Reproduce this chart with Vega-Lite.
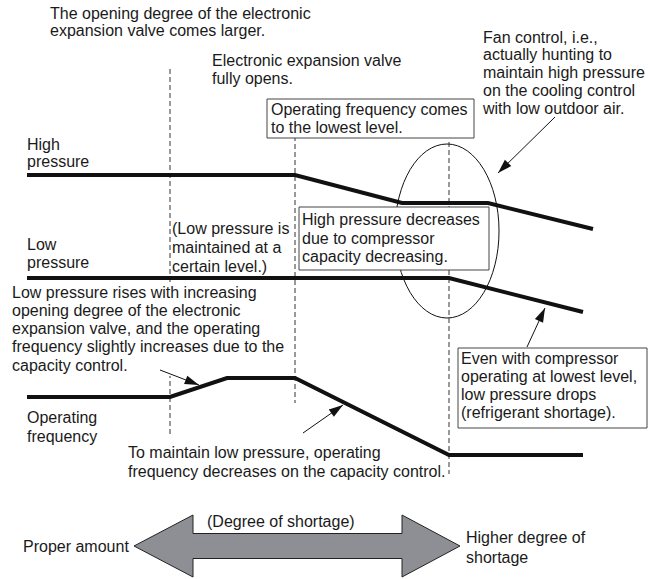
{
  "$schema": "https://vega.github.io/schema/vega-lite/v6.json",
  "width": 649,
  "height": 579,
  "padding": 0,
  "autosize": {"type": "fit", "contains": "padding"},
  "background": "white",
  "config": {"view": {"stroke": null}},
  "datasets": {
    "lines": [
      {"s": "high", "i": 0, "x": 27, "y": 175},
      {"s": "high", "i": 1, "x": 295, "y": 175},
      {"s": "high", "i": 2, "x": 402, "y": 203},
      {"s": "high", "i": 3, "x": 488, "y": 203},
      {"s": "high", "i": 4, "x": 593, "y": 229},
      {"s": "low", "i": 0, "x": 27, "y": 278},
      {"s": "low", "i": 1, "x": 449, "y": 278},
      {"s": "low", "i": 2, "x": 583, "y": 312},
      {"s": "freq", "i": 0, "x": 27, "y": 397},
      {"s": "freq", "i": 1, "x": 170, "y": 397},
      {"s": "freq", "i": 2, "x": 227, "y": 378},
      {"s": "freq", "i": 3, "x": 295, "y": 378},
      {"s": "freq", "i": 4, "x": 449, "y": 455},
      {"s": "freq", "i": 5, "x": 583, "y": 455}
    ],
    "dashes": [
      {"x": 170, "y": 69, "y2": 435},
      {"x": 295, "y": 136, "y2": 403},
      {"x": 449, "y": 142, "y2": 474}
    ],
    "ellipse": [{"x": 447, "y": 231}],
    "mask": [{"x": 8, "x2": 290, "y": 284, "y2": 376}],
    "boxes": [
      {"x": 267, "x2": 474, "y": 99, "y2": 138},
      {"x": 299, "x2": 489, "y": 207, "y2": 270},
      {"x": 458, "x2": 647, "y": 348, "y2": 428}
    ],
    "arrows": [
      {"id": "fan", "x": 555, "y": 117, "x2": 498, "y2": 173},
      {"id": "short", "x": 527, "y": 347, "x2": 545, "y2": 308},
      {"id": "rise", "x": 160, "y": 370, "x2": 199, "y2": 385},
      {"id": "keep", "x": 303, "y": 433, "x2": 343, "y2": 405}
    ],
    "bigarrow": [{"x": 297, "y": 546}],
    "labels": [
      {"x": 50, "y": 14, "t": "The opening degree of the electronic"},
      {"x": 50, "y": 31, "t": "expansion valve comes larger."},
      {"x": 212, "y": 61, "t": "Electronic expansion valve"},
      {"x": 212, "y": 79, "t": "fully opens."},
      {"x": 271, "y": 110, "t": "Operating frequency comes"},
      {"x": 271, "y": 128, "t": "to the lowest level."},
      {"x": 483, "y": 38, "t": "Fan control, i.e.,"},
      {"x": 483, "y": 55, "t": "actually hunting to"},
      {"x": 483, "y": 73, "t": "maintain high pressure"},
      {"x": 483, "y": 91, "t": "on the cooling control"},
      {"x": 483, "y": 109, "t": "with low outdoor air."},
      {"x": 27, "y": 145, "t": "High"},
      {"x": 27, "y": 162, "t": "pressure"},
      {"x": 27, "y": 245, "t": "Low"},
      {"x": 27, "y": 263, "t": "pressure"},
      {"x": 172, "y": 229, "t": "(Low pressure is"},
      {"x": 172, "y": 248, "t": "maintained at a"},
      {"x": 172, "y": 267, "t": "certain level.)"},
      {"x": 302, "y": 220, "t": "High pressure decreases"},
      {"x": 302, "y": 239, "t": "due to compressor"},
      {"x": 302, "y": 257, "t": "capacity decreasing."},
      {"x": 12, "y": 293, "t": "Low pressure rises with increasing"},
      {"x": 12, "y": 311, "t": "opening degree of the electronic"},
      {"x": 12, "y": 329, "t": "expansion valve, and the operating"},
      {"x": 12, "y": 347, "t": "frequency slightly increases due to the"},
      {"x": 12, "y": 366, "t": "capacity control."},
      {"x": 461, "y": 359, "t": "Even with compressor"},
      {"x": 461, "y": 377, "t": "operating at lowest level,"},
      {"x": 461, "y": 395, "t": "low pressure drops"},
      {"x": 461, "y": 413, "t": "(refrigerant shortage)."},
      {"x": 27, "y": 418, "t": "Operating"},
      {"x": 27, "y": 437, "t": "frequency"},
      {"x": 128, "y": 453, "t": "To maintain low pressure, operating"},
      {"x": 128, "y": 472, "t": "frequency decreases on the capacity control."},
      {"x": 207, "y": 522, "t": "(Degree of shortage)"},
      {"x": 23, "y": 547, "t": "Proper amount"},
      {"x": 466, "y": 538, "t": "Higher degree of"},
      {"x": 466, "y": 558, "t": "shortage"}
    ]
  },
  "encoding": {
    "x": {"field": "x", "type": "quantitative", "scale": {"domain": [0, 649], "nice": false, "zero": false}, "axis": null},
    "y": {"field": "y", "type": "quantitative", "scale": {"domain": [0, 579], "reverse": true, "nice": false, "zero": false}, "axis": null}
  },
  "layer": [
    {
      "data": {"name": "ellipse"},
      "mark": {"type": "point", "shape": "M0,-1A0.598,1,0,1,1,0,1A0.598,1,0,1,1,0,-1Z", "size": 30276, "filled": false, "stroke": "#111", "strokeWidth": 1, "opacity": 1}
    },
    {
      "data": {"name": "dashes"},
      "mark": {"type": "rule", "stroke": "#333", "strokeWidth": 1, "strokeDash": [5, 3]},
      "encoding": {"y2": {"field": "y2"}}
    },
    {
      "data": {"name": "lines"},
      "mark": {"type": "line", "stroke": "#111", "strokeWidth": 4, "strokeCap": "butt", "strokeJoin": "miter"},
      "encoding": {"detail": {"field": "s"}, "order": {"field": "i"}}
    },
    {
      "data": {"name": "mask"},
      "mark": {"type": "rect", "fill": "white", "strokeWidth": 0},
      "encoding": {"x2": {"field": "x2"}, "y2": {"field": "y2"}}
    },
    {
      "data": {"name": "boxes"},
      "mark": {"type": "rect", "fill": "white", "stroke": "#444", "strokeWidth": 1},
      "encoding": {"x2": {"field": "x2"}, "y2": {"field": "y2"}}
    },
    {
      "data": {"name": "arrows"},
      "mark": {"type": "rule", "stroke": "#111", "strokeWidth": 1},
      "encoding": {"x2": {"field": "x2"}, "y2": {"field": "y2"}}
    },
    {
      "data": {"name": "arrows"},
      "transform": [{"filter": "datum.id == 'fan'"}],
      "mark": {"type": "point", "shape": "M0,0L0.6,1.9L-0.6,1.9Z", "size": 225, "filled": true, "fill": "#111", "opacity": 1, "angle": 225},
      "encoding": {"x": {"field": "x2", "type": "quantitative"}, "y": {"field": "y2", "type": "quantitative"}}
    },
    {
      "data": {"name": "arrows"},
      "transform": [{"filter": "datum.id == 'short'"}],
      "mark": {"type": "point", "shape": "M0,0L0.6,1.9L-0.6,1.9Z", "size": 225, "filled": true, "fill": "#111", "opacity": 1, "angle": 25},
      "encoding": {"x": {"field": "x2", "type": "quantitative"}, "y": {"field": "y2", "type": "quantitative"}}
    },
    {
      "data": {"name": "arrows"},
      "transform": [{"filter": "datum.id == 'rise'"}],
      "mark": {"type": "point", "shape": "M0,0L0.6,1.9L-0.6,1.9Z", "size": 225, "filled": true, "fill": "#111", "opacity": 1, "angle": 111},
      "encoding": {"x": {"field": "x2", "type": "quantitative"}, "y": {"field": "y2", "type": "quantitative"}}
    },
    {
      "data": {"name": "arrows"},
      "transform": [{"filter": "datum.id == 'keep'"}],
      "mark": {"type": "point", "shape": "M0,0L0.6,1.9L-0.6,1.9Z", "size": 225, "filled": true, "fill": "#111", "opacity": 1, "angle": 55},
      "encoding": {"x": {"field": "x2", "type": "quantitative"}, "y": {"field": "y2", "type": "quantitative"}}
    },
    {
      "data": {"name": "bigarrow"},
      "mark": {"type": "point", "shape": "M-16.3,0L-10.4,-3.1L-10.4,-1.25L10.5,-1.25L10.5,-3.1L16.3,0L10.5,3.1L10.5,1.25L-10.4,1.25L-10.4,3.1Z", "size": 400, "filled": true, "fill": "#8e8f94", "stroke": "#222", "strokeWidth": 1, "opacity": 1}
    },
    {
      "data": {"name": "labels"},
      "mark": {"type": "text", "align": "left", "baseline": "middle", "font": "Liberation Sans", "fontSize": 16, "fill": "#1a1a1a"},
      "encoding": {"text": {"field": "t"}}
    }
  ]
}
